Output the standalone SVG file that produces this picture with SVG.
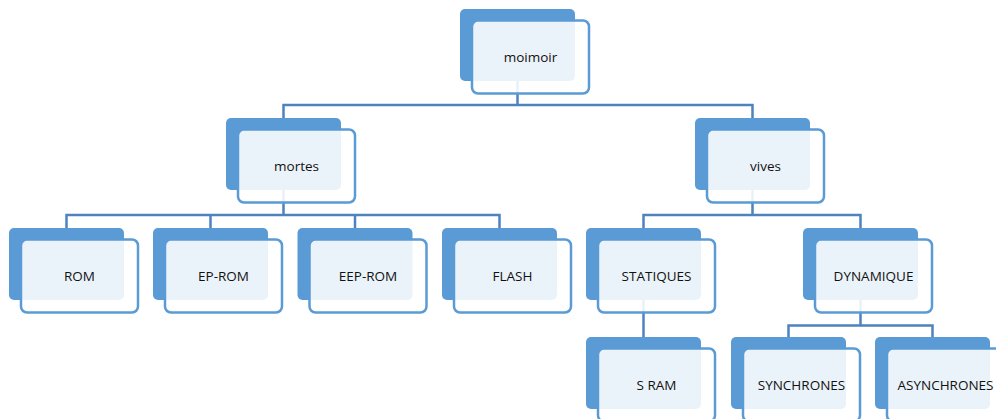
<svg xmlns="http://www.w3.org/2000/svg" width="996" height="419" viewBox="0 0 996 419">
<style>
.back{fill:#5B9BD5;}
.front{fill:#ffffff;fill-opacity:0.88;stroke:#5B9BD5;stroke-width:2.5;}
.lbl{font-family:"Open Sans","Liberation Sans",Arial,sans-serif;font-size:13.5px;fill:#111;text-anchor:middle;}
.conn{fill:none;stroke:#4E83C0;stroke-width:2.5;}
</style>
<rect width="996" height="419" fill="#ffffff"/>
<g id="connectors">
<path class="conn" d="M517.5,81V105M283.5,118V105H752.5V118"/>
<path class="conn" d="M283.5,190V215M66.5,228V215H499.5V228M210.5,215V228M355,215V228"/>
<path class="conn" d="M752.5,190V215M643.5,228V215H860.5V228"/>
<path class="conn" d="M643.5,300V337"/>
<path class="conn" d="M860.5,300V325.5M788.5,337V325.5H932.5V337"/>
</g>
<g id="n-moimoir"><rect class="back" x="460" y="9" width="115" height="72" rx="5"/><rect class="front" x="472" y="20.5" width="117" height="73" rx="6"/><text class="lbl" x="530.5" y="62">moimoir</text></g>
<g id="n-mortes"><rect class="back" x="226" y="118" width="115" height="72" rx="5"/><rect class="front" x="238" y="129.5" width="117" height="73" rx="6"/><text class="lbl" x="296.5" y="171">mortes</text></g>
<g id="n-vives"><rect class="back" x="695" y="118" width="115" height="72" rx="5"/><rect class="front" x="707" y="129.5" width="117" height="73" rx="6"/><text class="lbl" x="765.5" y="171">vives</text></g>
<g id="n-rom"><rect class="back" x="9" y="228" width="115" height="72" rx="5"/><rect class="front" x="21" y="239.5" width="117" height="73" rx="6"/><text class="lbl" x="79.5" y="281">ROM</text></g>
<g id="n-eprom"><rect class="back" x="153" y="228" width="115" height="72" rx="5"/><rect class="front" x="165" y="239.5" width="117" height="73" rx="6"/><text class="lbl" x="223.5" y="281">EP-ROM</text></g>
<g id="n-eeprom"><rect class="back" x="297.5" y="228" width="115" height="72" rx="5"/><rect class="front" x="309.5" y="239.5" width="117" height="73" rx="6"/><text class="lbl" x="368" y="281">EEP-ROM</text></g>
<g id="n-flash"><rect class="back" x="442" y="228" width="115" height="72" rx="5"/><rect class="front" x="454" y="239.5" width="117" height="73" rx="6"/><text class="lbl" x="512.5" y="281">FLASH</text></g>
<g id="n-statiques"><rect class="back" x="586" y="228" width="115" height="72" rx="5"/><rect class="front" x="598" y="239.5" width="117" height="73" rx="6"/><text class="lbl" x="656.5" y="281">STATIQUES</text></g>
<g id="n-dynamique"><rect class="back" x="803" y="228" width="115" height="72" rx="5"/><rect class="front" x="815" y="239.5" width="117" height="73" rx="6"/><text class="lbl" x="873.5" y="281">DYNAMIQUE</text></g>
<g id="n-sram"><rect class="back" x="586" y="337" width="115" height="72" rx="5"/><rect class="front" x="598" y="348.5" width="117" height="73" rx="6"/><text class="lbl" x="656.5" y="390">S RAM</text></g>
<g id="n-synchrones"><rect class="back" x="731" y="337" width="115" height="72" rx="5"/><rect class="front" x="743" y="348.5" width="117" height="73" rx="6"/><text class="lbl" x="801.5" y="390">SYNCHRONES</text></g>
<g id="n-asynchrones"><rect class="back" x="875" y="337" width="115" height="72" rx="5"/><rect class="front" x="887" y="348.5" width="117" height="73" rx="6"/><text class="lbl" x="945.5" y="390">ASYNCHRONES</text></g>
</svg>
